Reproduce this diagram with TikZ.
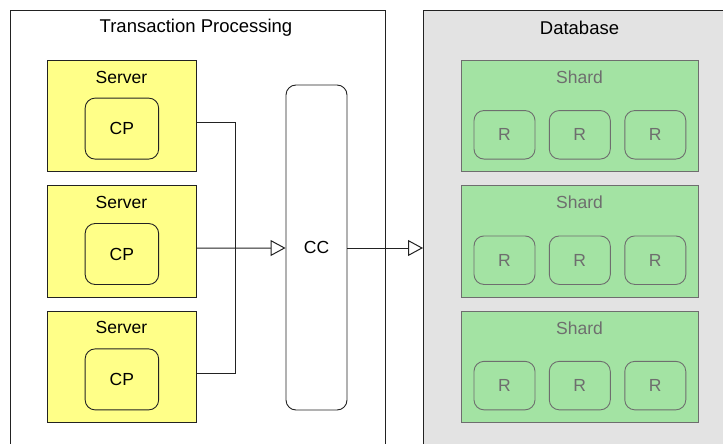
\documentclass[tikz,border=0pt]{standalone}
\usepackage{fontspec}
\setmainfont{Liberation Sans}
\usetikzlibrary{arrows.meta,positioning,calc}

\definecolor{srvfill}{RGB}{255,255,136}
\definecolor{shardfill}{RGB}{163,227,163}
\definecolor{dbfill}{RGB}{227,227,227}
\definecolor{shardline}{RGB}{110,110,110}
\definecolor{linecol}{RGB}{34,34,34}

\tikzset{
  every node/.style={font=\fontsize{17.5}{20}\selectfont, inner sep=0pt},
  title/.style={font=\fontsize{18.5}{22}\selectfont},
  container/.style={draw=linecol, line width=0.9pt, rectangle, anchor=north west},
  server/.style={draw=linecol, line width=0.9pt, fill=srvfill, rectangle,
                 minimum width=149pt, minimum height=111.5pt},
  proc/.style={draw=linecol, line width=0.9pt, rounded corners=10pt, rectangle,
               minimum width=73.5pt, minimum height=61pt},
  shard/.style={draw=shardline, line width=0.9pt, fill=shardfill, rectangle,
                minimum width=237pt, minimum height=111.5pt},
  replica/.style={draw=shardline, line width=0.9pt, rounded corners=10pt, rectangle,
                  minimum width=61pt, minimum height=48.5pt, text=shardline},
  coord/.style={draw=linecol, line width=0.9pt, rounded corners=10pt, fill=white,
                minimum width=61pt, minimum height=325pt},
  link/.style={draw=linecol, line width=1pt},
  flow/.style={link, -{Triangle[open, length=15pt, width=16pt, fill=white]}},
}

\begin{document}
\begin{tikzpicture}[x=1pt, y=-1pt]
  \useasboundingbox (0,0) rectangle (723,444);
  \clip (0,0) rectangle (723,444);

  % outer groups
  \node[container, minimum width=375pt, minimum height=460pt] (tp) at (10,10) {};
  \node[container, fill=dbfill, minimum width=320pt, minimum height=460pt] (db) at (423,10) {};
  \node[title] (tptitle) at (196,27.5) {Transaction Processing};
  \node[title] (dbtitle) at (579.5,27.5) {Database};

  % servers, each with a transaction processor
  \foreach \i/\y in {1/116, 2/241.4, 3/366.8} {
    \node[server] (s\i) at (121.5,\y) {};
    \node (sl\i) at (121.5,\y-39) {Server};
    \node[proc] (cp\i) at (121.9,\y+12.6) {CP};
  }

  % concurrency control
  \node[coord] (cc) at (316.5,247.5) {CC};

  % shards with replicas
  \foreach \i/\y in {1/116, 2/241.4, 3/366.8} {
    \node[shard] (sh\i) at (579.5,\y) {};
    \node[text=shardline] (shl\i) at (579.5,\y-39) {Shard};
    \node[replica] (r\i a) at (504.5,\y+18.8) {R};
    \node[replica] (r\i b) at (579.8,\y+18.8) {R};
    \node[replica] (r\i c) at (655.3,\y+18.8) {R};
  }

  % connectors
  \coordinate (join) at (235,248);
  \draw[link] ([yshift=-6.7pt]s1.east) -| (join);
  \draw[link] ([yshift=-6.7pt]s3.east) -| (join);
  \draw[flow] ([yshift=-6.7pt]s2.east) -- (cc.west |- join);
  \draw[flow] (cc.east |- join) -- (db.west |- join);
\end{tikzpicture}
\end{document}
